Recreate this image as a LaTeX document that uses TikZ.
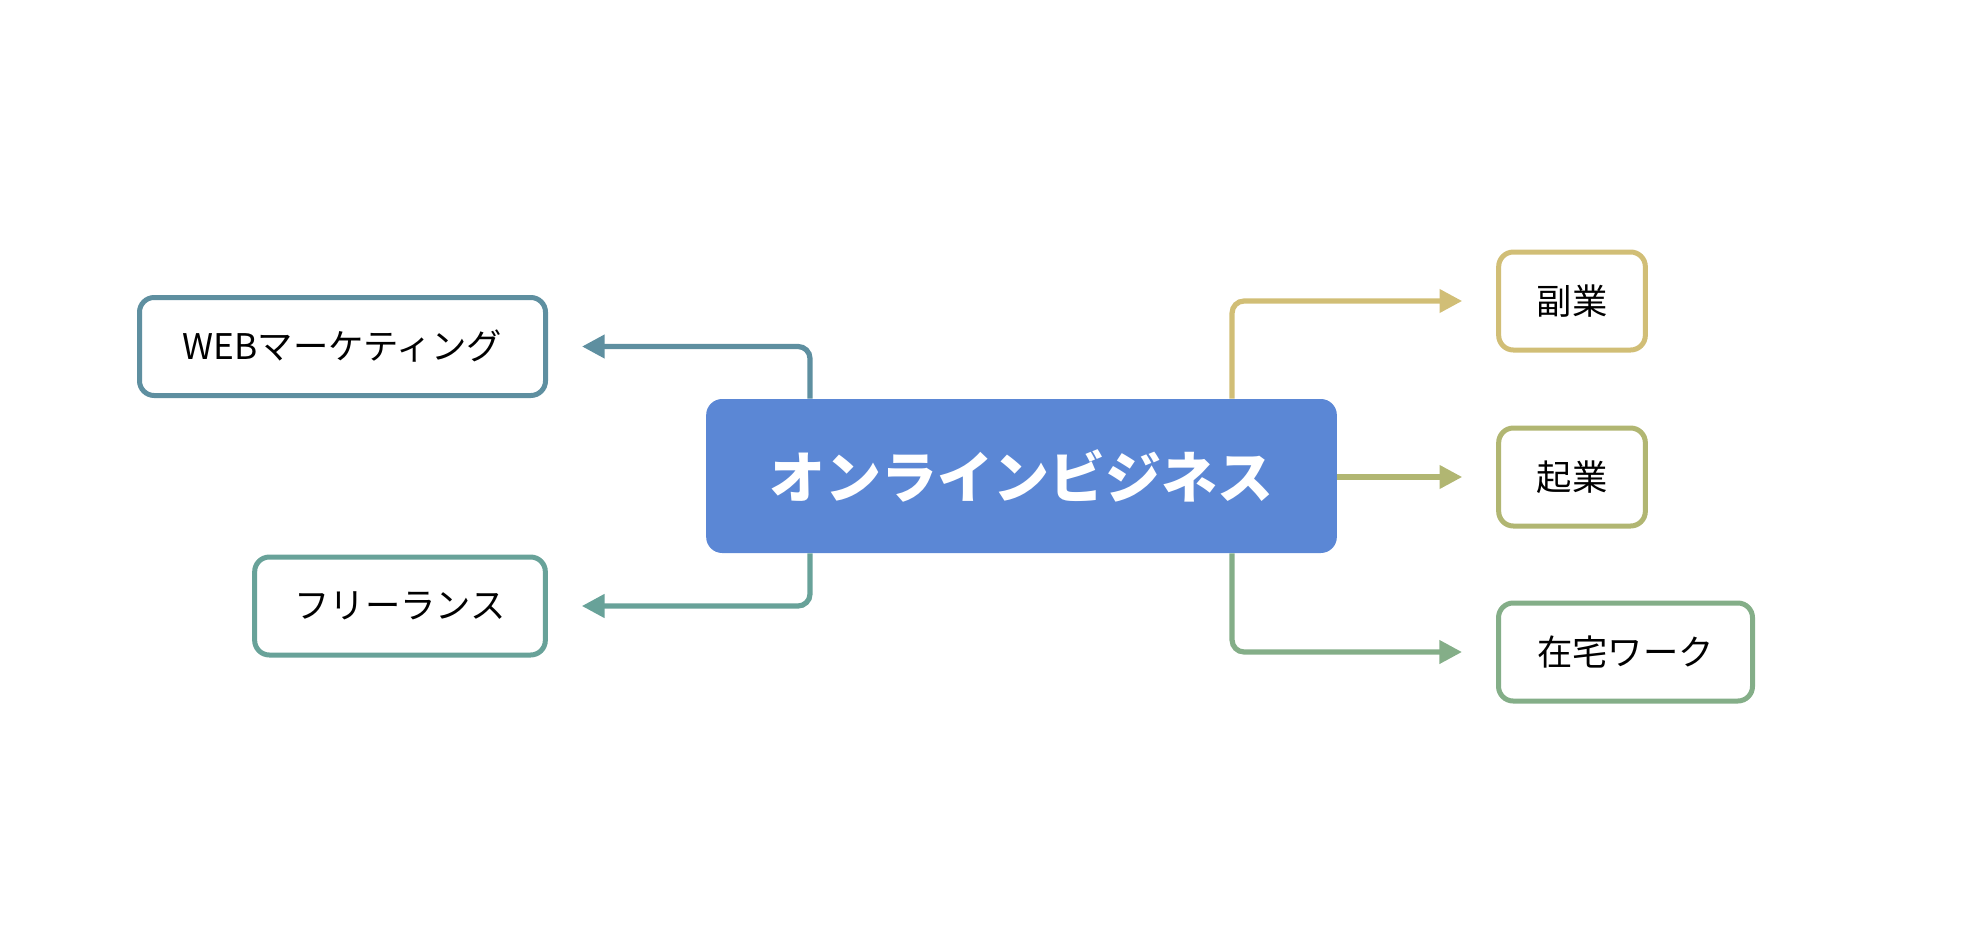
\documentclass[tikz,border=0pt]{standalone}
\usepackage{fontspec}
\newfontfamily\jp{Noto Sans CJK JP}
\usetikzlibrary{arrows.meta}
\definecolor{cweb}{HTML}{5E8FA0}
\definecolor{cfree}{HTML}{68A299}
\definecolor{cfuku}{HTML}{D1BE76}
\definecolor{ckigyo}{HTML}{B1B672}
\definecolor{czaitaku}{HTML}{84AE88}
\definecolor{ccenter}{HTML}{5B87D5}
\tikzset{
  leaf/.style={draw=#1, line width=3.75pt, rounded corners=11pt, fill=white,
    inner sep=0pt, minimum height=73.5pt, font=\jp\fontsize{26.5}{30}\selectfont, text=black},
  hub/.style={fill=ccenter, rounded corners=12pt, inner sep=0pt,
    minimum width=473pt, minimum height=115.5pt, text=white,
    font=\jp\bfseries\fontsize{42}{48}\selectfont},
  conn/.style={draw=#1, line width=3.9pt, rounded corners=9pt,
    -{Triangle[length=17pt,width=17pt]}}
}
\begin{document}
\begin{tikzpicture}[x=0.75pt,y=-0.75pt]
\path[use as bounding box] (0,0) rectangle (1976,942);
\node[hub] (c) at (1021.5,476) {オンラインビジネス};
\node[leaf=cweb, minimum width=304.5pt] (web) at (342.5,346.5) {WEBマーケティング};
\node[leaf=cfree, minimum width=218pt] (free) at (400,606) {フリーランス};
\node[leaf=cfuku, minimum width=110pt] (fuku) at (1572,301) {副業};
\node[leaf=ckigyo, minimum width=110pt] (kigyo) at (1572,477) {起業};
\node[leaf=czaitaku, minimum width=190.5pt] (zai) at (1625.5,652) {在宅ワーク};
\draw[conn=cweb] ([xshift=-158.6pt]c.north) |- ([xshift=25.5pt]web.east);
\draw[conn=cfree] ([xshift=-158.6pt]c.south) |- ([xshift=25.5pt]free.east);
\draw[conn=cfuku] ([xshift=157.9pt]c.north) |- ([xshift=-25.5pt]fuku.west);
\draw[conn=ckigyo] (c.east |- kigyo.west) -- ([xshift=-25.5pt]kigyo.west);
\draw[conn=czaitaku] ([xshift=157.9pt]c.south) |- ([xshift=-25.5pt]zai.west);
\end{tikzpicture}
\end{document}
